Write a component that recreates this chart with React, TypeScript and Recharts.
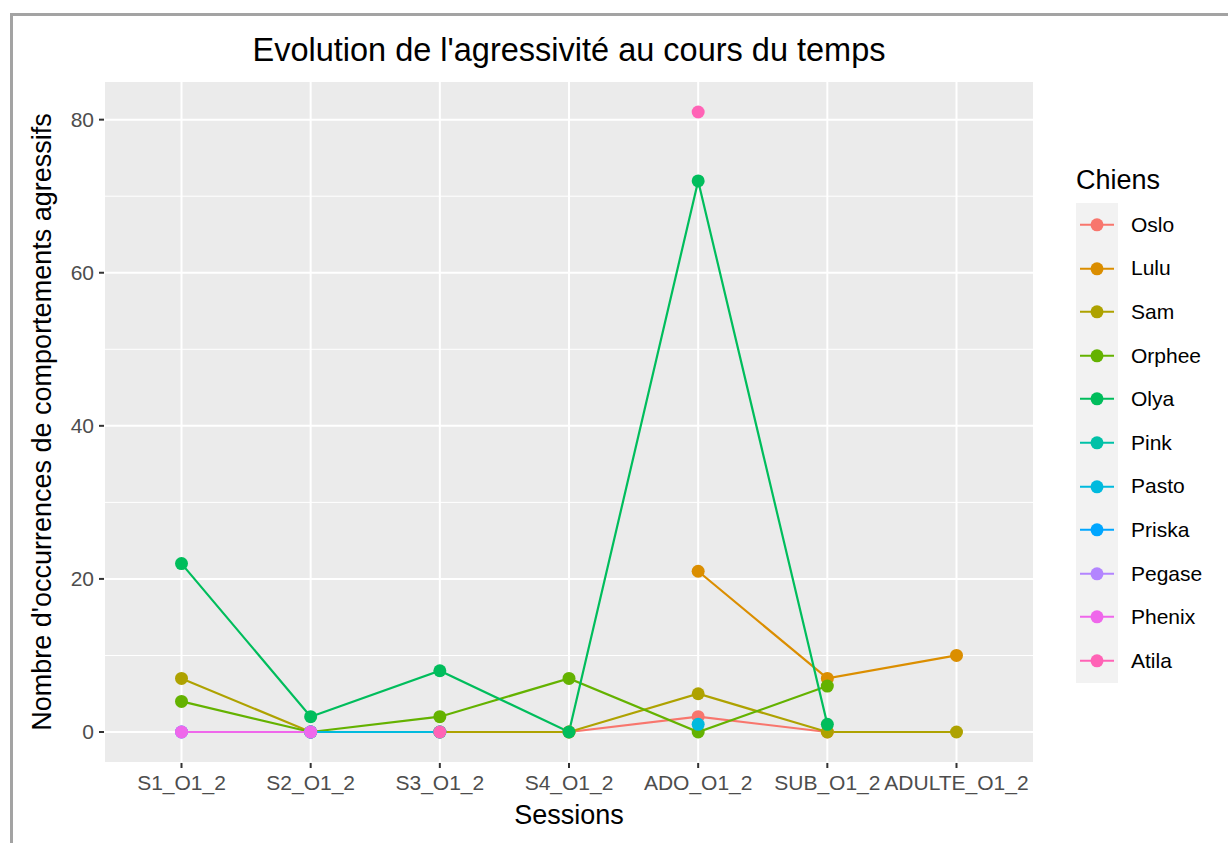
import React from 'react';
import { LineChart, Line, XAxis, YAxis, CartesianGrid, ReferenceLine } from 'recharts';

const sessions = ['S1_O1_2', 'S2_O1_2', 'S3_O1_2', 'S4_O1_2', 'ADO_O1_2', 'SUB_O1_2', 'ADULTE_O1_2'];

// one array per dog, one value per session (null = no observation)
const oslo = [null, null, null, 0, 2, 0, null];
const lulu = [null, null, null, null, 21, 7, 10];
const sam = [7, 0, 0, 0, 5, 0, 0];
const orphee = [4, 0, 2, 7, 0, 6, null];
const olya = [22, 2, 8, 0, 72, 1, null];
const pink = [null, 0, 0, null, null, null, null];
const pasto = [null, 0, 0, null, 1, null, null];
const priska = [0, 0, null, null, null, null, null];
const pegase = [0, 0, null, null, null, null, null];
const phenix = [0, 0, null, null, null, null, null];
const atila = [null, null, 0, null, 81, null, null];

const dogs = ['Oslo', 'Lulu', 'Sam', 'Orphee', 'Olya', 'Pink', 'Pasto', 'Priska', 'Pegase', 'Phenix', 'Atila'];
const dogValues = [oslo, lulu, sam, orphee, olya, pink, pasto, priska, pegase, phenix, atila];
const COLORS = ['#F8766D', '#DB8E00', '#AEA200', '#64B200', '#00BD5C', '#00C1A7', '#00BADE', '#00A6FF', '#B385FF', '#EF67EB', '#FF63B6'];

const yTicks = [0, 20, 40, 60, 80];
const yMinor = [10, 30, 50, 70];

const data = sessions.map((s, i) => {
  const row: Record<string, number | null> = { x: i + 1 };
  dogs.forEach((d, k) => {
    row[d] = dogValues[k][i];
  });
  return row;
});

const FONT = '"Liberation Sans", Arial, Helvetica, sans-serif';

const App: React.FC = () => {
  return (
    <div style={{ position: 'absolute', left: 0, top: 0, width: 1228, height: 843, background: '#fff', fontFamily: FONT }}>
      {/* screenshot frame */}
      <div style={{ position: 'absolute', left: 10, top: 13, width: 1218, height: 830, borderTop: '3px solid #A3A3A3', borderLeft: '3px solid #A3A3A3' }} />

      <LineChart
        width={1228}
        height={843}
        data={data}
        margin={{ top: 81, right: 194, bottom: 30, left: 50 }}
        style={{ position: 'absolute', left: 0, top: 0 }}
      >
        <CartesianGrid fill="#EBEBEB" stroke="#FFFFFF" strokeWidth={2} />
        <XAxis
          type="number"
          dataKey="x"
          domain={[0.4, 7.6]}
          ticks={[1, 2, 3, 4, 5, 6, 7]}
          interval={0}
          allowDataOverflow
          tickFormatter={(v: number) => sessions[v - 1]}
          axisLine={false}
          tickLine={{ stroke: '#333333', strokeWidth: 2 }}
          tickSize={5}
          tickMargin={7}
          height={50}
          tick={{ fill: '#4D4D4D', fontSize: 21, fontFamily: FONT }}
        />
        <YAxis
          type="number"
          domain={[-4.05, 85.05]}
          ticks={yTicks}
          allowDataOverflow
          axisLine={false}
          tickLine={{ stroke: '#333333', strokeWidth: 2 }}
          tickSize={5}
          tickMargin={5}
          width={54}
          tick={{ fill: '#4D4D4D', fontSize: 21, fontFamily: FONT }}
        />
        {yMinor.map((v) => (
          <ReferenceLine key={v} y={v} stroke="#FFFFFF" strokeWidth={1} />
        ))}
        {dogs.map((d, k) => (
          <Line
            key={d}
            type="linear"
            dataKey={d}
            stroke={COLORS[k]}
            strokeWidth={2.2}
            dot={{ r: 6.5, fill: COLORS[k], stroke: COLORS[k], strokeWidth: 0 }}
            activeDot={false}
            connectNulls={false}
            isAnimationActive={false}
          />
        ))}
      </LineChart>

      {/* title */}
      <div style={{ position: 'absolute', left: 104, width: 930, top: 32, textAlign: 'center', fontSize: 32.5, lineHeight: '36px', color: '#000' }}>
        Evolution de l'agressivité au cours du temps
      </div>

      {/* x axis title */}
      <div style={{ position: 'absolute', left: 104, width: 930, top: 799, textAlign: 'center', fontSize: 27, lineHeight: '32px', color: '#000' }}>
        Sessions
      </div>

      {/* y axis title */}
      <div
        style={{
          position: 'absolute',
          left: 42,
          top: 422,
          transform: 'translate(-50%, -50%) rotate(-90deg)',
          whiteSpace: 'nowrap',
          fontSize: 27,
          lineHeight: '32px',
          color: '#000',
        }}
      >
        Nombre d'occurrences de comportements agressifs
      </div>

      {/* legend */}
      <div style={{ position: 'absolute', left: 1076, top: 164, fontSize: 27, lineHeight: '32px', color: '#000' }}>Chiens</div>
      <div style={{ position: 'absolute', left: 1076, top: 203, width: 42, height: 480, background: '#F2F2F2' }} />
      {dogs.map((d, k) => (
        <div key={d} style={{ position: 'absolute', left: 1076, top: 203 + k * 43.6, height: 43.6, display: 'flex', alignItems: 'center' }}>
          <svg width={42} height={43.6} style={{ display: 'block' }}>
            <line x1={4} x2={38} y1={21.8} y2={21.8} stroke={COLORS[k]} strokeWidth={2} />
            <circle cx={21} cy={21.8} r={6.5} fill={COLORS[k]} />
          </svg>
          <span style={{ marginLeft: 13, fontSize: 21, color: '#000' }}>{d}</span>
        </div>
      ))}
    </div>
  );
};

export default App;
